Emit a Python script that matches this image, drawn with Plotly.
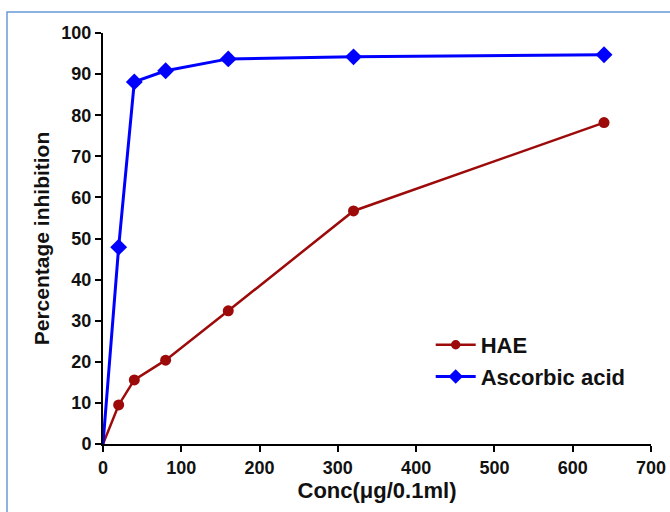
import plotly.graph_objects as go

conc = [0, 20, 40, 80, 160, 320, 640]
hae = [0, 9.5, 15.6, 20.4, 32.4, 56.7, 78.2]
ascorbic = [0, 47.9, 88.1, 90.8, 93.7, 94.2, 94.7]
x_ticks = [0, 100, 200, 300, 400, 500, 600, 700]
y_ticks = [0, 10, 20, 30, 40, 50, 60, 70, 80, 90, 100]

FONT = "Liberation Sans, Arial, sans-serif"

fig = go.Figure()
fig.add_trace(go.Scatter(
    x=conc, y=hae, name="HAE", mode="lines+markers",
    line=dict(color="#9c0a0a", width=2.5),
    marker=dict(symbol="circle", size=[0] + [11] * (len(conc) - 1), color="#9c0a0a",
                opacity=1, line=dict(width=0)),
))
fig.add_trace(go.Scatter(
    x=conc, y=ascorbic, name="Ascorbic acid", mode="lines+markers",
    line=dict(color="#0000ff", width=3),
    marker=dict(symbol="diamond", size=[0] + [13] * (len(conc) - 1), color="#0000ff",
                opacity=1, line=dict(width=0)),
))

axis_common = dict(
    showline=True, linecolor="black", linewidth=2,
    ticks="outside", ticklen=6, tickwidth=2, tickcolor="black",
    showgrid=False, zeroline=False, automargin=False,
    tickfont=dict(family=FONT, size=18, color="#111111", weight="bold"),
)

fig.update_layout(
    width=670, height=512,
    margin=dict(l=103, r=19, t=33, b=68),
    paper_bgcolor="white", plot_bgcolor="white",
    xaxis=dict(range=[0, 700], tickvals=x_ticks,
               title=dict(text="Conc(μg/0.1ml)", standoff=4,
                          font=dict(family=FONT, size=22, color="#111111", weight="bold")),
               **axis_common),
    yaxis=dict(range=[0, 100], tickvals=y_ticks,
               title=dict(text="Percentage inhibition", standoff=6,
                          font=dict(family=FONT, size=21, color="#111111", weight="bold")),
               **axis_common),
    legend=dict(x=0.598, y=0.292, xanchor="left", yanchor="top",
                bgcolor="rgba(0,0,0,0)", itemwidth=40,
                font=dict(family=FONT, size=22, color="#111111", weight="bold")),
    showlegend=True,
    shapes=[dict(type="rect", xref="paper", yref="paper",
                 x0=(7 - 103) / 548, x1=(700 - 103) / 548,
                 y0=(444 - 540) / 411, y1=(444 - 12) / 411,
                 line=dict(color="#6a9bd6", width=1.5), layer="below")],
)

fig.write_html("out.html", config={"displayModeBar": False},
               post_script="document.body.style.margin='0';")
